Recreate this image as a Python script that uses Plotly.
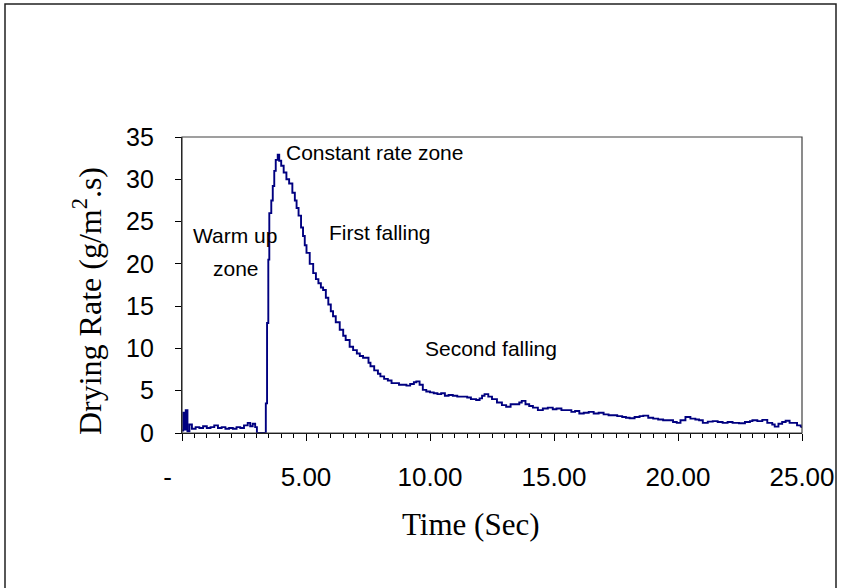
import plotly.graph_objects as go

# Drying-rate curve (time in s, rate in g/m^2.s)
time_s = [0.00, 0.05, 0.10, 0.15, 0.22, 0.30, 0.40, 0.55, 0.70, 0.85, 1.00, 1.15, 1.30, 1.45,
          1.60, 1.75, 1.90, 2.05, 2.20, 2.35, 2.50, 2.65, 2.75, 2.85, 2.95, 3.02, 3.35, 3.38,
          3.43, 3.48, 3.52, 3.60, 3.66, 3.72, 3.78, 3.86, 3.92, 4.00, 4.10, 4.21, 4.32, 4.45,
          4.55, 4.62, 4.70, 4.80, 4.88, 4.95, 5.02, 5.15, 5.29, 5.40, 5.50, 5.60, 5.69, 5.80,
          5.90, 6.00, 6.09, 6.20, 6.36, 6.50, 6.60, 6.76, 6.90, 7.05, 7.17, 7.30, 7.44, 7.52,
          7.60, 7.75, 7.90, 8.00, 8.15, 8.30, 8.45, 8.60, 8.75, 8.91, 9.05, 9.20, 9.35, 9.45,
          9.58, 9.71, 9.85, 10.00, 10.15, 10.30, 10.45, 10.60, 10.75, 10.92, 11.10, 11.30,
          11.50, 11.65, 11.86, 12.00, 12.10, 12.20, 12.35, 12.50, 12.70, 12.90, 13.07, 13.25,
          13.45, 13.60, 13.70, 13.85, 14.00, 14.15, 14.35, 14.55, 14.75, 14.95, 15.10, 15.30,
          15.50, 15.70, 15.85, 16.02, 16.20, 16.40, 16.60, 16.80, 17.00, 17.20, 17.36, 17.55,
          17.75, 17.90, 18.05, 18.25, 18.45, 18.60, 18.80, 19.00, 19.20, 19.40, 19.60, 19.80,
          19.95, 20.10, 20.30, 20.50, 20.70, 20.85, 21.00, 21.20, 21.40, 21.60, 21.80, 22.00,
          22.20, 22.46, 22.70, 22.90, 23.00, 23.20, 23.40, 23.60, 23.80, 23.90, 24.05, 24.20,
          24.34, 24.50, 24.65, 24.80, 24.95, 25.00]
drying_rate = [0.3, 2.4, 0.4, 2.7, 0.2, 1.0, 0.5, 0.7, 0.6, 0.8, 0.6, 0.7, 0.9, 0.6,
               0.7, 0.5, 0.6, 0.5, 0.7, 0.6, 0.9, 1.2, 0.8, 1.1, 0.7, 0.0, 0.0, 3.5,
               13.0, 20.5, 26.0, 27.5, 29.2, 31.0, 32.3, 32.9, 32.2, 31.6, 30.8, 30.0, 29.5, 28.4,
               27.5, 26.6, 25.7, 24.3, 23.3, 22.2, 21.3, 20.0, 18.9, 18.2, 17.7, 17.2, 16.9, 16.0,
               15.2, 14.4, 13.8, 13.1, 12.2, 11.5, 11.0, 10.2, 9.8, 9.4, 9.1, 8.9, 8.9, 8.3,
               7.9, 7.4, 7.0, 6.7, 6.4, 6.2, 5.9, 5.9, 5.7, 5.7, 5.6, 5.8, 6.0, 6.1,
               5.7, 5.1, 4.9, 4.8, 4.7, 4.6, 4.7, 4.4, 4.5, 4.4, 4.3, 4.3,
               4.2, 4.0, 3.9, 4.1, 4.4, 4.6, 4.3, 4.0, 3.6, 3.3, 3.1, 3.4,
               3.4, 3.6, 3.8, 3.4, 3.2, 3.0, 2.7, 2.9, 3.0, 2.8, 2.9, 2.7,
               2.7, 2.5, 2.6, 2.3, 2.4, 2.5, 2.3, 2.4, 2.2, 2.1, 2.1, 2.0,
               1.9, 1.8, 1.75, 1.9, 2.0, 2.05, 1.8, 1.7, 1.6, 1.5, 1.5, 1.3,
               1.2, 1.5, 1.9, 1.7, 1.6, 1.5, 1.2, 1.35, 1.4, 1.3, 1.2, 1.3,
               1.2, 1.15, 1.3, 1.4, 1.5, 1.4, 1.55, 1.2, 1.0, 0.75, 1.1, 1.3,
               1.45, 1.2, 1.2, 0.9, 0.75, 0.6]

x_tick_vals = [0, 5, 10, 15, 20, 25]
x_tick_text = ["-\u00a0\u00a0\u00a0\u00a0", "5.00", "10.00", "15.00", "20.00", "25.00"]
y_tick_vals = [0, 5, 10, 15, 20, 25, 30, 35]

zone_labels = ["Constant rate zone", "Warm up", "zone", "First falling", "Second falling"]
zone_x = [7.78, 2.14, 2.18, 7.98, 12.46]
zone_y = [33.2, 23.3, 19.5, 23.65, 10.05]

SANS = "Arial, Liberation Sans, sans-serif"
SERIF = "Times New Roman, Liberation Serif, serif"

fig = go.Figure()
fig.add_trace(go.Scatter(x=time_s, y=drying_rate, mode="lines",
                         line=dict(color="#000080", width=1.9, shape="hv"), showlegend=False,
                         hoverinfo="skip", cliponaxis=True))

for txt, ax, ay in zip(zone_labels, zone_x, zone_y):
    fig.add_annotation(x=ax, y=ay, xref="x", yref="y", text=txt, showarrow=False,
                       font=dict(family=SANS, size=21, color="black"),
                       xanchor="center", yanchor="middle")

# axis titles
fig.add_annotation(x=0.466, y=-0.31, xref="paper", yref="paper", text="Time (Sec)",
                   showarrow=False, font=dict(family=SERIF, size=31, color="black"),
                   xanchor="center", yanchor="middle")
fig.add_annotation(x=-0.152, y=0.445, xref="paper", yref="paper",
                   text="Drying Rate (g/m<sup>2</sup>.s)", textangle=-90,
                   showarrow=False, font=dict(family=SERIF, size=32, color="black"),
                   xanchor="center", yanchor="middle")

# plot frame and outer figure border
fig.add_shape(type="rect", xref="paper", yref="paper", x0=0, x1=1, y0=0, y1=1,
              line=dict(color="#404040", width=1.2), layer="above")
fig.add_shape(type="rect", xref="paper", yref="paper",
              x0=(5 - 182) / 620, x1=(836 - 182) / 620,
              y0=(433 - 592) / 296, y1=(433 - 4) / 296,
              line=dict(color="#202020", width=1.5))

fig.update_layout(
    width=841, height=588,
    margin=dict(l=182, r=39, t=137, b=155, autoexpand=False),
    paper_bgcolor="white", plot_bgcolor="white",
    xaxis=dict(range=[0, 25], tickmode="array", tickvals=x_tick_vals, ticktext=x_tick_text,
               automargin=False,
               showgrid=False, zeroline=False, showline=True, linecolor="black", linewidth=1.2,
               ticks="outside", ticklen=7, tickcolor="black", tickwidth=1,
               minor=dict(dtick=0.5, ticks="outside", ticklen=4, tickcolor="black", showgrid=False),
               tickfont=dict(family=SANS, size=26, color="black"), ticklabelstandoff=14),
    yaxis=dict(range=[0, 35], tickmode="array", tickvals=y_tick_vals,
               automargin=False,
               showgrid=False, zeroline=False, showline=True, linecolor="black", linewidth=1.2,
               ticks="outside", ticklen=6, tickcolor="black", tickwidth=1,
               tickfont=dict(family=SANS, size=25, color="black"), ticklabelstandoff=16),
)

fig.write_html("out.html")
